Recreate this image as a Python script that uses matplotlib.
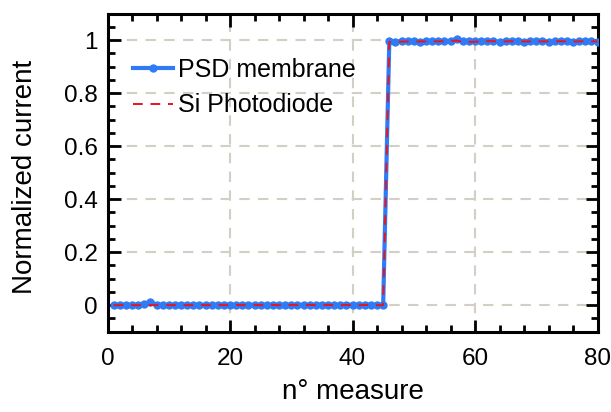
import numpy as np
import matplotlib.pyplot as plt
from matplotlib.ticker import MultipleLocator

# measurement index
n_meas = list(range(1, 81))

# PSD membrane normalized current
psd = [0.000, 0.002, 0.001, 0.000, 0.002, 0.003, 0.012, 0.002, 0.001, 0.000,
       0.001, 0.002, 0.000, 0.001, 0.002, 0.001, 0.000, 0.001, 0.002, 0.001,
       0.000, 0.001, 0.002, 0.001, 0.000, 0.001, 0.002, 0.001, 0.000, 0.001,
       0.002, 0.001, 0.000, 0.001, 0.002, 0.001, 0.000, 0.001, 0.002, 0.001,
       0.000, 0.001, 0.002, 0.001, 0.002,
       0.995, 0.994, 0.995, 0.996, 0.995, 0.994, 0.995, 0.996, 0.995, 0.996,
       0.997, 1.005, 0.997, 0.996, 0.995, 0.995, 0.996, 0.995, 0.994, 0.995,
       0.996, 0.995, 0.994, 0.995, 0.996, 0.995, 0.994, 0.995, 0.996, 0.995,
       0.994, 0.995, 0.996, 0.995, 0.994]

# Si photodiode normalized current
si = [0.000, 0.000, 0.001, 0.000, 0.000, 0.001, 0.000, 0.000, 0.001, 0.000,
      0.000, 0.001, 0.000, 0.000, 0.001, 0.000, 0.000, 0.001, 0.000, 0.000,
      0.001, 0.000, 0.000, 0.001, 0.000, 0.000, 0.001, 0.000, 0.000, 0.001,
      0.000, 0.000, 0.001, 0.000, 0.000, 0.001, 0.000, 0.000, 0.001, 0.000,
      0.000, 0.001, 0.000, 0.000, 0.000,
      0.993, 0.994, 0.994, 0.995, 0.994, 0.995, 0.995, 0.996, 0.995, 0.996,
      0.997, 0.998, 0.994, 0.993, 0.994, 0.995, 0.996, 0.996, 0.995, 0.995,
      0.996, 0.995, 0.995, 0.995, 0.996, 0.995, 0.995, 0.995, 0.996, 0.995,
      0.995, 0.995, 0.996, 0.995, 0.995]

plt.rcParams['font.family'] = ['Liberation Sans', 'DejaVu Sans']
fs_tick = 17.5
fs_label = 20

fig = plt.figure(figsize=(6.11, 4.12), dpi=100)
ax = fig.add_axes([0.176, 0.195, 0.802, 0.772])

ax.grid(True, which='major', color='#d3cfc5', linestyle=(0, (5, 4)), linewidth=1.5)
ax.set_axisbelow(True)

ax.plot(n_meas, psd, color='#2f7bf5', linewidth=3, marker='o', markersize=5,
        label='PSD membrane', zorder=3)
ax.plot(n_meas, si, color='#e8141e', linewidth=1.4, linestyle=(0, (5, 4)),
        label='Si Photodiode', zorder=4)

ax.set_xlim(0, 80)
ax.set_ylim(-0.1, 1.1)
ax.xaxis.set_major_locator(MultipleLocator(20))
ax.xaxis.set_minor_locator(MultipleLocator(4))
ax.yaxis.set_minor_locator(MultipleLocator(0.05))
ax.set_yticks([0, 0.2, 0.4, 0.6, 0.8, 1.0])
ax.set_yticklabels(['0', '0.2', '0.4', '0.6', '0.8', '1'])

ax.tick_params(which='both', direction='in', top=True, right=True,
               labelsize=fs_tick, width=2)
ax.tick_params(axis='x', pad=12)
ax.tick_params(axis='y', pad=7)
ax.tick_params(which='major', length=9)
ax.tick_params(which='minor', length=5)
for s in ax.spines.values():
    s.set_linewidth(2.2)

ax.set_xlabel('n° measure', fontsize=fs_label, labelpad=6)
ax.set_ylabel('Normalized current', fontsize=fs_label)
ax.yaxis.set_label_coords(-0.142, 0.486)

ax.legend(loc='upper left', bbox_to_anchor=(0.052, 0.86), frameon=False,
          fontsize=18, handlelength=1.6, handletextpad=0.2, labelspacing=0.45,
          borderpad=0, borderaxespad=0)

fig.savefig('out.png', dpi=100)
